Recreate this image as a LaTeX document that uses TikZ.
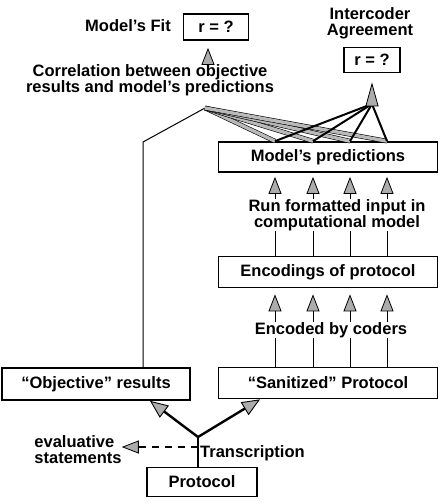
\documentclass[tikz,border=0pt]{standalone}
\usepackage{fontspec}
\setmainfont{Liberation Sans}
\usetikzlibrary{arrows.meta}

\newcommand*{\txtsize}{\fontsize{16.5}{16}\selectfont\bfseries}

\begin{document}
\begin{tikzpicture}
[
	x=1pt, y=-1pt,
	every node/.style={font=\txtsize, inner sep=0pt},
	txt/.style={align=center},
	box/.style={draw, line width=1.7pt},
	tip/.style={-{Triangle[length=17pt, width=13pt, fill=gray!65, line width=0.8pt]}, line width=0.7pt},
	bigtip/.style={-{Triangle[length=18pt, width=15pt, fill=gray!65, line width=0.9pt]}, line width=2.4pt},
	gband/.style={line width=0.6pt, double=gray!55, double distance=3.4pt},
	bband/.style={line width=2pt}
]
	\useasboundingbox (0,0) rectangle (440,504);

	% columns of the encoding chain
	\coordinate (c1) at (275,0);
	\coordinate (c2) at (313,0);
	\coordinate (c3) at (350,0);
	\coordinate (c4) at (387,0);

	% top: fit and agreement
	\node (fitlbl) at (128,26) {Model's Fit};
	\node[box, minimum width=65pt, minimum height=26pt] (fitbox) at (216,27) {r = ?};
	\node[txt] (corr) at (150,80) {Correlation between objective\\results and model's predictions};
	\node[txt] (agreelbl) at (370,23) {Intercoder\\Agreement};
	\node[box, minimum width=56pt, minimum height=25pt] (agreebox) at (372,60) {r = ?};

	\draw[tip, shorten >=7pt] (corr.north -| 208,0) -- (fitbox.south -| 208,0);

	% boxes
	\node[box, minimum width=219pt, minimum height=30pt] (pred) at (328,157) {Model's predictions};
	\node[txt] (run) at (337,215) {Run formatted input in\\computational model};
	\node[box, minimum width=219pt, minimum height=31pt] (enc) at (328,272) {Encodings of protocol};
	\node (coders) at (331,330) {Encoded by coders};
	\node[box, minimum width=219pt, minimum height=31pt] (san) at (328,383) {``Sanitized'' Protocol};
	\node[box, minimum width=188pt, minimum height=32pt] (obj) at (96,384) {``Objective'' results};
	\node[box, minimum width=110pt, minimum height=29pt] (proto) at (202,482) {Protocol};
	\node[anchor=west] (trans) at (200,453) {Transcription};
	\node[txt, align=left] (eval) at (78,450) {evaluative\\statements};

	% fans into the two correlations
	\coordinate (lpeak) at (205,108);
	\coordinate (rpeak) at (372,104);
	\coordinate (bend) at (143,142);
	\draw[line width=1pt] (lpeak) -- (bend) -- (bend |- obj.north);
	\draw[gband] (lpeak) -- (pred.north -| c1);
	\draw[gband] (lpeak) -- (pred.north -| c2);
	\draw[gband] (lpeak) -- (pred.north -| c3);
	\draw[gband] (lpeak) -- (pred.north -| c4);
	\draw[bband] (rpeak) -- (pred.north -| c1);
	\draw[bband] (rpeak) -- (pred.north -| c2);
	\draw[bband] (rpeak) -- (pred.north -| c3);
	\draw[bband] (rpeak) -- (pred.north -| c4);
	\draw[-{Triangle[length=24pt, width=13pt, fill=gray!65, line width=0.8pt]}, line width=1pt, shorten >=9pt] (rpeak) -- (agreebox.south);

	% run in model
	\draw[tip, shorten >=4pt] (run.north -| c1) -- (pred.south -| c1);
	\draw[tip, shorten >=4pt] (run.north -| c2) -- (pred.south -| c2);
	\draw[tip, shorten >=4pt] (run.north -| c3) -- (pred.south -| c3);
	\draw[tip, shorten >=4pt] (run.north -| c4) -- (pred.south -| c4);
	\draw[line width=0.7pt] (run.south -| c1) -- (enc.north -| c1);
	\draw[line width=0.7pt] (run.south -| c2) -- (enc.north -| c2);
	\draw[line width=0.7pt] (run.south -| c3) -- (enc.north -| c3);
	\draw[line width=0.7pt] (run.south -| c4) -- (enc.north -| c4);

	% coding
	\draw[tip, shorten >=6pt] (coders.north -| c1) -- (enc.south -| c1);
	\draw[tip, shorten >=6pt] (coders.north -| c2) -- (enc.south -| c2);
	\draw[tip, shorten >=6pt] (coders.north -| c3) -- (enc.south -| c3);
	\draw[tip, shorten >=6pt] (coders.north -| c4) -- (enc.south -| c4);
	\draw[line width=0.7pt] (coders.south -| c1) -- (san.north -| c1);
	\draw[line width=0.7pt] (coders.south -| c2) -- (san.north -| c2);
	\draw[line width=0.7pt] (coders.south -| c3) -- (san.north -| c3);
	\draw[line width=0.7pt] (coders.south -| c4) -- (san.north -| c4);

	% transcription
	\coordinate (split) at (198,437);
	\draw[line width=1.2pt] (proto.north -| split) -- (split);
	\draw[bigtip] (split) -- (obj.south -| 150,0);
	\draw[bigtip] (split) -- (san.south -| 260,0);
	\draw[tip, dash pattern=on 7pt off 6pt, line width=1.1pt] (split |- 0,447) -- (eval.east |- 0,447);

\end{tikzpicture}
\end{document}
